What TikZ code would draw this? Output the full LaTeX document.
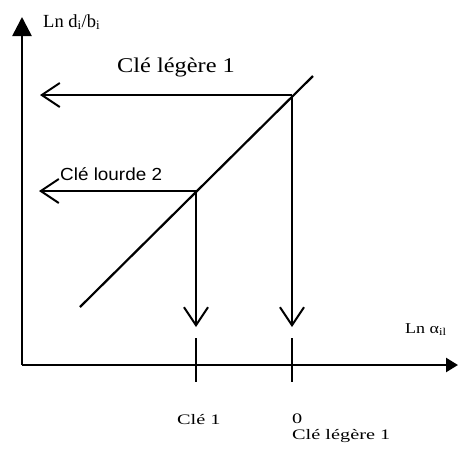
\documentclass[tikz,border=0pt]{standalone}
\usepackage{fontspec}
\setmainfont{Liberation Serif}
\setsansfont{Liberation Sans}
\newfontfamily\wideA[FakeStretch=1.4]{Liberation Serif}
\newfontfamily\wideB[FakeStretch=1.16]{Liberation Serif}
\newfontfamily\wideS[FakeStretch=1.08]{Liberation Sans}
\newfontfamily\wideC[FakeStretch=1.2]{Liberation Serif}
\usetikzlibrary{arrows.meta}
\begin{document}
\begin{tikzpicture}[x=1pt,y=-1pt,
  yaxis/.style={line width=2.6pt,-{Triangle[length=19pt,width=19pt]}},
  xaxis/.style={line width=2.4pt,-{Triangle[length=12pt,width=14pt]}},
  ln/.style={line width=2.2pt},
  arr/.style={line width=2pt,-{Straight Barb[length=18pt,width=24pt,line width=2pt]}},
  lbl/.style={inner sep=0pt,anchor=base west}]
\useasboundingbox (0,0) rectangle (459,459);
\coordinate (O) at (22,365);
\coordinate (Ytop) at (22,17);
\coordinate (Xend) at (458,365);
\coordinate (D1) at (80,307);
\coordinate (D2) at (313,76);
\coordinate (P1) at (292,95);
\coordinate (P2) at (196,191);
\coordinate (L1) at (40,95);
\coordinate (L2) at (39,191);
\coordinate (B1) at (196,327);
\coordinate (B2) at (292,327);
\coordinate (T1a) at (196,338); \coordinate (T1b) at (196,382);
\coordinate (T2a) at (292,338); \coordinate (T2b) at (292,382);
\draw[yaxis] (O) -- (Ytop);
\draw[xaxis] (O) -- (Xend);
\draw[ln] (D1) -- (D2);
\draw[arr] (P1) -- (L1);
\draw[arr] (P2) -- (L2);
\draw[arr] (P1) -- (B2);
\draw[arr] (P2) -- (B1);
\draw[ln] (T1a) -- (T1b);
\draw[ln] (T2a) -- (T2b);
\node[lbl] (ylab) at (43,27) {\fontsize{18.5}{20}\selectfont Ln d\textsubscript{i}/b\textsubscript{i}};
\node[lbl] (cl1) at (117,72) {\fontsize{21}{24}\wideB Clé légère 1};
\node[lbl] (cl2) at (60,180) {\fontsize{17.5}{20}\wideS Clé lourde 2};
\node[lbl] (xlab) at (405,333) {\fontsize{15}{18}\wideC Ln α\textsubscript{il}};
\node[lbl] (k1) at (177,424) {\fontsize{14.5}{16}\wideA Clé 1};
\node[lbl] (k0) at (292,423) {\fontsize{14.5}{16}\wideA 0};
\node[lbl] (k2) at (292,439) {\fontsize{14.5}{16}\wideA Clé légère 1};
\end{tikzpicture}
\end{document}
